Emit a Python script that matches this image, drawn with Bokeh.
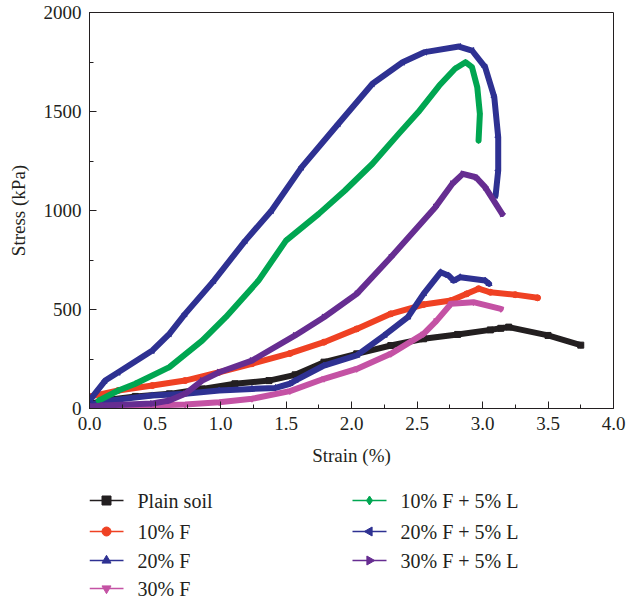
import numpy as np
from bokeh.plotting import figure
from bokeh.layouts import column
from bokeh.models import Range1d, SingleIntervalTicker, PrintfTickFormatter
from bokeh.embed import file_html
from bokeh.resources import INLINE
from bokeh.core.properties import value

# ---------------- data ----------------
labels = ["Plain soil", "10% F", "20% F", "30% F",
          "10% F + 5% L", "20% F + 5% L", "30% F + 5% L"]

plain_x = [0.02, 0.10, 0.35, 0.61, 0.86, 1.11, 1.37, 1.57, 1.79, 2.04, 2.30, 2.55, 2.81, 3.06, 3.14, 3.2, 3.5, 3.75]
plain_y = [25, 40, 61, 74, 99, 125, 141, 170, 234, 276, 318, 352, 374, 397, 405, 411, 369, 320]

f10_x = [0.0, 0.22, 0.48, 0.73, 0.99, 1.24, 1.53, 1.79, 2.04, 2.30, 2.55, 2.76, 2.88, 2.97, 3.06, 3.25, 3.42]
f10_y = [60, 91, 116, 141, 183, 226, 278, 335, 402, 478, 525, 545, 579, 605, 587, 575, 559]

f20_x = [0.02, 0.10, 0.48, 0.73, 0.99, 1.24, 1.42, 1.53, 1.57, 1.79, 2.04, 2.25, 2.43, 2.55, 2.68, 2.74, 2.78, 2.83, 3.02, 3.05]
f20_y = [20, 36, 66, 74, 91, 99, 104, 125, 141, 217, 268, 369, 461, 579, 688, 672, 646, 663, 646, 630]

f30_x = [0.02, 0.10, 0.48, 0.73, 0.99, 1.24, 1.53, 1.79, 2.04, 2.30, 2.55, 2.65, 2.76, 2.93, 3.14]
f30_y = [3, 5, 15, 20, 32, 49, 88, 150, 200, 276, 377, 444, 529, 537, 503]

f10l_x = [0.07, 0.22, 0.35, 0.61, 0.86, 1.04, 1.29, 1.50, 1.75, 1.95, 2.16, 2.36, 2.51, 2.67, 2.79, 2.87, 2.92, 2.96, 2.98, 2.97]
f10l_y = [40, 91, 125, 209, 343, 461, 646, 848, 983, 1101, 1236, 1387, 1497, 1631, 1716, 1749, 1724, 1623, 1488, 1354]

f20l_x = [0.01, 0.12, 0.22, 0.48, 0.61, 0.73, 0.95, 1.19, 1.39, 1.62, 1.90, 2.16, 2.39, 2.56, 2.82, 2.92, 3.02, 3.09, 3.12, 3.12, 3.10]
f20l_y = [49, 141, 183, 293, 377, 478, 646, 848, 1000, 1219, 1438, 1640, 1749, 1800, 1828, 1808, 1724, 1572, 1370, 1202, 1076]

f30l_x = [0.02, 0.10, 0.48, 0.61, 0.73, 0.86, 0.99, 1.24, 1.57, 1.79, 2.04, 2.30, 2.64, 2.77, 2.85, 2.95, 3.02, 3.15]
f30l_y = [10, 15, 25, 40, 74, 141, 183, 242, 369, 461, 579, 764, 1017, 1135, 1185, 1168, 1118, 983]

xs = [plain_x, f10_x, f20_x, f30_x, f10l_x, f20l_x, f30l_x]
ys = [plain_y, f10_y, f20_y, f30_y, f10l_y, f20l_y, f30l_y]

x_ticks_interval = 0.5
y_ticks_interval = 500

# ---------------- styles ----------------
colors = ["#231f20", "#ef4123", "#2e3192", "#c452a4", "#00a651", "#2e3192", "#662d91"]
markers = ["square", "circle", "triangle", "inverted_triangle", "diamond", "triangle", "triangle"]
angles = [0, 0, 0, 0, 0, np.pi / 2, -np.pi / 2]
FONT = "Liberation Serif"
INK = "#231f20"
W = 627

# ---------------- main chart ----------------
p = figure(width=W, height=474, x_range=Range1d(0, 4), y_range=Range1d(0, 2000),
           output_backend="svg", toolbar_location=None,
           min_border_left=89, min_border_right=14, min_border_top=12, min_border_bottom=66)
p.grid.visible = False
p.outline_line_color = INK
p.outline_line_alpha = 1
p.outline_line_width = 1

p.xaxis.ticker = SingleIntervalTicker(interval=x_ticks_interval, num_minor_ticks=2)
p.yaxis.ticker = SingleIntervalTicker(interval=y_ticks_interval, num_minor_ticks=2)
p.xaxis.formatter = PrintfTickFormatter(format="%.1f")
p.xaxis.axis_label = "Strain (%)"
p.yaxis.axis_label = "Stress (kPa)"

for ax in (p.xaxis[0], p.yaxis[0]):
    ax.major_tick_in = 7
    ax.major_tick_out = 0
    ax.minor_tick_in = 4
    ax.minor_tick_out = 0
    ax.axis_line_color = INK
    ax.major_tick_line_color = INK
    ax.minor_tick_line_color = INK
    ax.major_label_text_font = FONT
    ax.major_label_text_font_size = "19px"
    ax.major_label_text_color = INK
    ax.axis_label_text_font = FONT
    ax.axis_label_text_font_size = "19px"
    ax.axis_label_text_font_style = "normal"
    ax.axis_label_text_color = INK
    ax.major_label_standoff = 8
    ax.axis_label_standoff = 12

for x, y, c, m, a in zip(xs, ys, colors, markers, angles):
    p.line(x, y, line_width=6, line_color=c, line_join="round", line_cap="round")
    p.scatter(x, y, marker=m, angle=a, size=6, fill_color=c, line_color=c)

# ---------------- legend panel ----------------
LH = 128
lg = figure(width=W, height=LH, x_range=Range1d(89, 613), y_range=Range1d(0, LH),
            output_backend="svg", toolbar_location=None,
            x_axis_location=None, y_axis_location=None,
            min_border_left=89, min_border_right=14, min_border_top=0, min_border_bottom=0)
lg.grid.visible = False
lg.outline_line_color = None

col_x = [89, 89, 89, 89, 352, 352, 352]          # left end of legend glyph
row_y = [102, 71, 42, 14, 102, 71, 42]           # row centres (from bottom)
gw, gap = 34, 14

x0 = col_x
x1 = [v + gw for v in col_x]
xm = [v + gw / 2 for v in col_x]
xt = [v + gw + gap for v in col_x]

for i in range(len(labels)):
    lg.segment(x0=[x0[i]], y0=[row_y[i]], x1=[x1[i]], y1=[row_y[i]],
               line_color=colors[i], line_width=1.5)
    lg.scatter([xm[i]], [row_y[i]], marker=markers[i], angle=angles[i], size=9,
               fill_color=colors[i], line_color=colors[i])
lg.text(x=xt, y=row_y, text=labels, text_font=value(FONT), text_font_size=value("20px"),
        text_baseline="middle", text_align="left", text_color=INK)

layout = column(p, lg, spacing=0)
open("out.html", "w").write(file_html(layout, INLINE))
